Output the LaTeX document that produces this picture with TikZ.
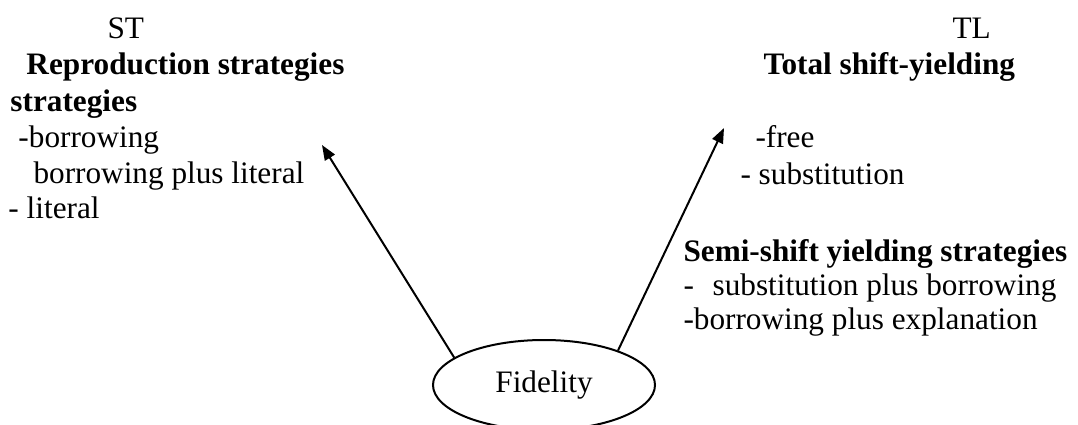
\documentclass[tikz,border=0pt]{standalone}
\usepackage{fontspec}
\setmainfont{Liberation Serif}
\usepackage{tikz}
\usetikzlibrary{arrows.meta,positioning,shapes.geometric}

\begin{document}
\begin{tikzpicture}[x=0.4pt, y=-0.4pt, >={Triangle[length=6pt,width=4.6pt]},
  font=\fontsize{12.5}{15}\selectfont,
  txt/.style={anchor=base west, inner sep=0pt},
  hd/.style={txt, font=\fontsize{12.5}{15}\selectfont\bfseries}]

  \clip (0,0) rectangle (1078,425);

  % Define nodes

  \node[txt] (st) at (107, 39) {ST};
  \node[hd] (repro) at (26, 75) {Reproduction strategies};
  \node[hd] (repro2) at (10, 112) {strategies};
  \node[txt] (l1) at (18, 148) {-borrowing};
  \node[txt] (l2) at (33, 184) {borrowing plus literal};
  \node[txt] (l3) at (8, 219) {- literal};

  \node[txt] (tl) at (952, 39) {TL};
  \node[hd] (total) at (763, 75) {Total shift-yielding};
  \node[txt] (r1) at (755, 148) {-free};
  \node[txt] (r2) at (740, 185) {- substitution};
  \node[hd] (semi) at (683, 262) {Semi-shift yielding strategies};
  \node[txt] (r3) at (683, 296) {-\hspace{0.6em}substitution plus borrowing};
  \node[txt] (r4) at (683, 329) {-borrowing plus explanation};

  \node[draw, line width=0.8pt, ellipse, minimum width=88.8pt, minimum height=36pt, inner sep=0pt] (fid) at (544, 385) {Fidelity};

  \coordinate (stTip) at (322, 145);
  \coordinate (tlTip) at (724, 128);

  % Draw arrows
  \draw[->, line width=0.8pt] (fid.163) -- (stTip);
  \draw[->, line width=0.8pt] (fid.25) -- (tlTip);
\end{tikzpicture}
\end{document}
